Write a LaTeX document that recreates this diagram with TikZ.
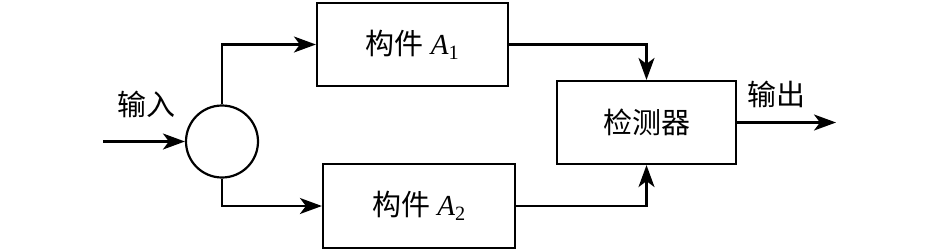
\documentclass[tikz,border=0pt]{standalone}
\usepackage{fontspec}
\setmainfont{Liberation Serif}
\newfontfamily\cjk{Noto Sans CJK SC}[Scale=1]
\usetikzlibrary{arrows.meta}
\begin{document}
\begin{tikzpicture}[x=1pt,y=-1pt,
  line width=2.2pt,
  arr/.style={-{Stealth[length=22pt,width=16pt,inset=6pt]}},
  blk/.style={draw,line width=2.2pt,inner sep=0pt},
  lbl/.style={font=\fontsize{29}{34}\selectfont}]
\useasboundingbox (0,0) rectangle (946,250);
\node[blk,minimum width=191pt,minimum height=83pt] (a1) at (412.5,44.5) {};
\node[lbl] at (a1.center) {{\cjk 构件} \textit{A}\textsubscript{1}};
\node[blk,minimum width=192pt,minimum height=84pt] (a2) at (419,206) {};
\node[lbl] at (a2.center) {{\cjk 构件} \textit{A}\textsubscript{2}};
\node[blk,minimum width=179pt,minimum height=83pt] (det) at (646.5,122.5) {};
\node[lbl] at (det.center) {\cjk 检测器};
\node[draw,circle,line width=2.2pt,minimum size=72pt,inner sep=0pt] (c) at (222,141.5) {};
\coordinate (in) at (103,141.5);
\coordinate (out) at (836,122.5);
\node[lbl] at (146,104) {\cjk 输入};
\node[lbl] at (776,94) {\cjk 输出};
\draw[arr] (in) -- (c.west);
\draw[arr] (c.north) |- (a1.west);
\draw[arr] (c.south) |- (a2.west);
\draw[arr] (a1.east) -| (det.north);
\draw[arr] (a2.east) -| (det.south);
\draw[arr] (det.east) -- (out);
\end{tikzpicture}
\end{document}
